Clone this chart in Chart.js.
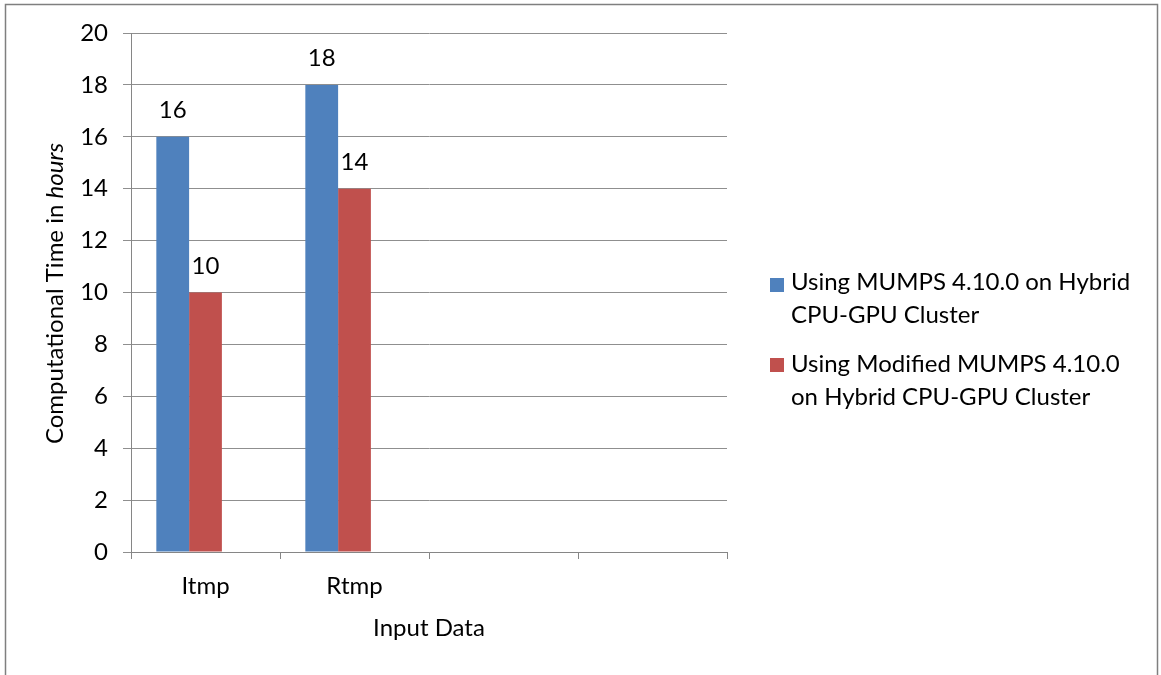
<!DOCTYPE html>
<html><head><meta charset="utf-8">
<script src="https://cdn.jsdelivr.net/npm/chart.js@4"></script>
<style>html,body{margin:0;padding:0;background:#fff}#wrap{width:1161px;height:675px;position:relative}</style>
</head><body><div id="wrap"><canvas id="c" width="1161" height="675"></canvas></div>
<script>
const categories = ['Itmp', 'Rtmp', '', ''];
const seriesNames = ['Using MUMPS 4.10.0 on Hybrid CPU-GPU Cluster', 'Using Modified MUMPS 4.10.0 on Hybrid CPU-GPU Cluster'];
const legendLines = [['Using MUMPS 4.10.0 on Hybrid', 'CPU-GPU Cluster'], ['Using Modified MUMPS 4.10.0', 'on Hybrid CPU-GPU Cluster']];
const mumpsValues = [16, 18, null, null];
const modifiedValues = [10, 14, null, null];
const emptySeries = [null, null, null, null];
const yMin = 0, yMax = 20, yStep = 2;
const yTitleNormal = 'Computational Time in ';
const yTitleItalic = 'hours';
const xTitle = 'Input Data';

const FONT = 'Lato';
const FS = 24;
const AXIS = '#868686';
const GRID = '#8f8f8f';

const framePlugin = {
  id: 'frame',
  beforeDraw(chart) {
    const ctx = chart.ctx;
    ctx.save();
    ctx.fillStyle = '#fff';
    ctx.fillRect(0, 0, chart.width, chart.height);
    ctx.strokeStyle = '#7f7f7f';
    ctx.lineWidth = 1.5;
    ctx.strokeRect(5.5, 4.5, 1152, 700);
    ctx.restore();
  }
};

const labelsPlugin = {
  id: 'extras',
  afterDatasetsDraw(chart) {
    const ctx = chart.ctx;
    ctx.save();
    ctx.font = FS + 'px ' + FONT;
    ctx.fillStyle = '#000';
    ctx.textAlign = 'center';
    ctx.textBaseline = 'alphabetic';
    [0, 1].forEach(di => {
      const meta = chart.getDatasetMeta(di);
      meta.data.forEach((bar, i) => {
        const v = chart.data.datasets[di].data[i];
        if (v === null || v === undefined) return;
        ctx.fillText(String(v), bar.x, bar.y - 18.5);
      });
    });
    ctx.restore();
  },
  afterDraw(chart) {
    const ctx = chart.ctx;
    const area = chart.chartArea;
    ctx.save();
    ctx.fillStyle = '#000';
    // y title
    ctx.font = FS + 'px ' + FONT;
    const w1 = ctx.measureText(yTitleNormal).width;
    ctx.font = 'italic ' + FS + 'px ' + FONT;
    const w2 = ctx.measureText(yTitleItalic).width;
    const cy = (area.top + area.bottom) / 2 + 1;
    ctx.translate(63, cy + (w1 + w2) / 2);
    ctx.rotate(-Math.PI / 2);
    ctx.textAlign = 'left';
    ctx.textBaseline = 'alphabetic';
    ctx.font = FS + 'px ' + FONT;
    ctx.fillText(yTitleNormal, 0, 0);
    ctx.font = 'italic ' + FS + 'px ' + FONT;
    ctx.fillText(yTitleItalic, w1, 0);
    ctx.setTransform(1, 0, 0, 1, 0, 0);
    // x title
    ctx.font = FS + 'px ' + FONT;
    ctx.textAlign = 'center';
    ctx.fillText(xTitle, (area.left + area.right) / 2, 636);
    // legend
    const colors = chart.data.datasets.slice(0, 2).map(d => d.backgroundColor);
    const sqY = [278, 358];
    const baseY = [290, 372];
    ctx.textAlign = 'left';
    for (let k = 0; k < 2; k++) {
      ctx.fillStyle = colors[k];
      ctx.fillRect(770, sqY[k], 14, 14);
      ctx.fillStyle = '#000';
      legendLines[k].forEach((ln, j) => ctx.fillText(ln, 791, baseY[k] + j * 33));
    }
    ctx.restore();
  }
};

new Chart(document.getElementById('c'), {
  type: 'bar',
  data: {
    labels: categories,
    datasets: [
      { label: seriesNames[0], data: mumpsValues, backgroundColor: '#4F81BD' },
      { label: seriesNames[1], data: modifiedValues, backgroundColor: '#C0504D' },
      { label: '', data: emptySeries, backgroundColor: 'rgba(0,0,0,0)' }
    ]
  },
  options: {
    responsive: false,
    animation: false,
    devicePixelRatio: 1,
    layout: { padding: { left: 0, top: 33, right: 434, bottom: 0 } },
    datasets: { bar: { categoryPercentage: 0.66, barPercentage: 1 } },
    plugins: { legend: { display: false }, tooltip: { enabled: false } },
    scales: {
      x: {
        offset: true,
        grid: { offset: true, drawOnChartArea: false, drawTicks: true, tickLength: 7, color: AXIS, lineWidth: 1 },
        border: { color: AXIS, width: 1 },
        ticks: { font: { family: FONT, size: FS }, color: '#000', padding: 13 },
        afterFit(s) { s.height = 123; }
      },
      y: {
        min: yMin, max: yMax,
        ticks: { stepSize: yStep, font: { family: FONT, size: FS }, color: '#000', padding: 15 },
        grid: { color: GRID, tickLength: 8, lineWidth: 1 },
        border: { color: AXIS, width: 1 },
        afterFit(s) { s.width = 131; }
      }
    }
  },
  plugins: [framePlugin, labelsPlugin]
});
</script>
</body></html>
